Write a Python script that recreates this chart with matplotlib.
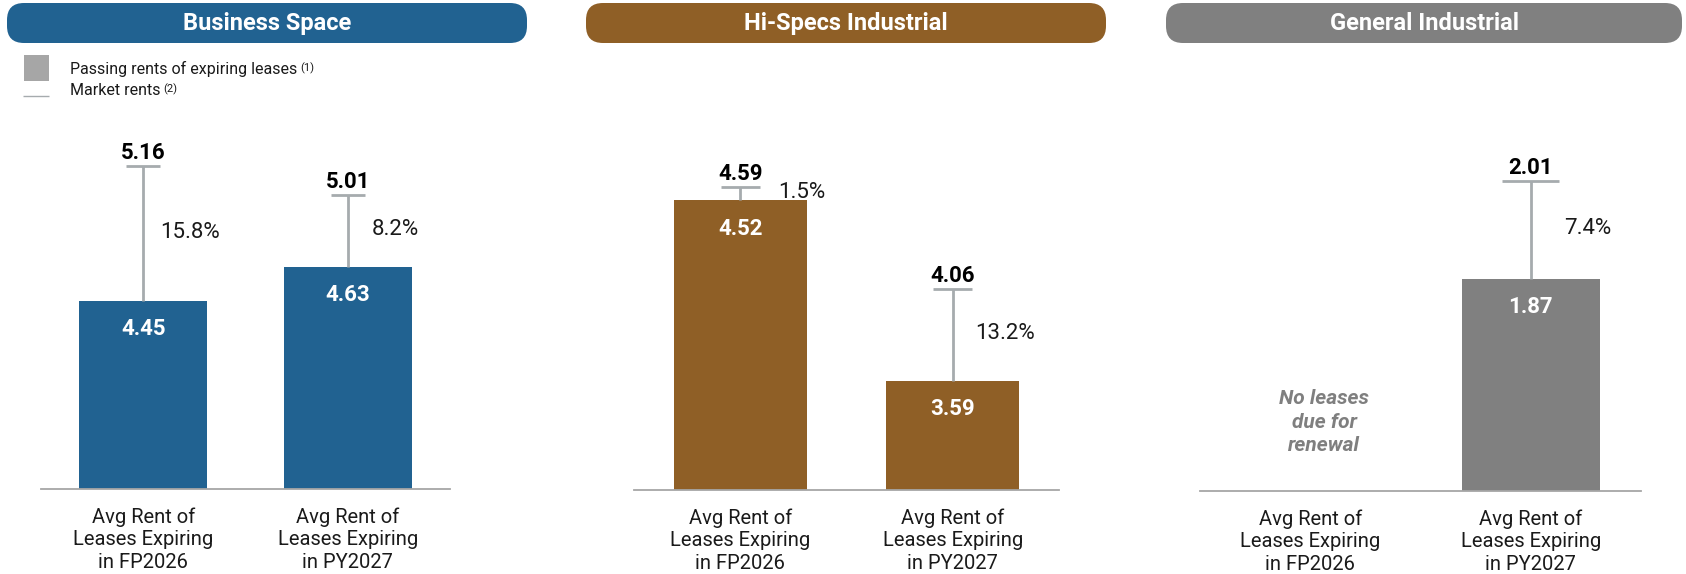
import matplotlib
matplotlib.use("Agg")
import matplotlib.pyplot as plt
from matplotlib.patches import FancyBboxPatch, Rectangle
from matplotlib.transforms import blended_transform_factory

# ---------------- data ----------------
segments = ["Business Space", "Hi-Specs Industrial", "General Industrial"]
categories = ["Avg Rent of\nLeases Expiring\nin FP2026",
              "Avg Rent of\nLeases Expiring\nin PY2027"]
passing_business = [4.45, 4.63]
market_business = [5.16, 5.01]
gap_business = ["15.8%", "8.2%"]
passing_hispecs = [4.52, 3.59]
market_hispecs = [4.59, 4.06]
gap_hispecs = ["1.5%", "13.2%"]
passing_general = [None, 1.87]
market_general = [None, 2.01]
gap_general = [None, "7.4%"]
no_data_note = "No leases\ndue for\nrenewal"
legend_labels = ["Passing rents of expiring leases", "Market rents"]
legend_notes = ["(1)", "(2)"]

# ---------------- style / layout ----------------
plt.rcParams["font.family"] = ["Roboto", "DejaVu Sans"]
W, H = 1686, 574
DPI = 100
PX = 72.0 / DPI  # points per pixel
TOP = 110
whisker_color = "#A6ABAE"
text_color = "#1A1A1A"

layout = [
    dict(left=41, right=450, base=489, v0=3.461, s=190, color="#216291",
         header=(7, 527), cap_px=34, pct_dx=[17, 24]),
    dict(left=634, right=1059, base=490, v0=3.026, s=194, color="#8F5F26",
         header=(586, 1106), cap_px=39, pct_dx=[38, 22]),
    dict(left=1200, right=1641, base=491, v0=1.567, s=700, color="#808080",
         header=(1166, 1682), cap_px=57, pct_dx=[0, 33]),
]
series = [
    (passing_business, market_business, gap_business),
    (passing_hispecs, market_hispecs, gap_hispecs),
    (passing_general, market_general, gap_general),
]

fig = plt.figure(figsize=(W / DPI, H / DPI), dpi=DPI)

# overlay in pixel coordinates for headers and legend
hax = fig.add_axes([0, 0, 1, 1], zorder=0)
hax.set_xlim(0, W)
hax.set_ylim(H, 0)
hax.axis("off")

for name, lay in zip(segments, layout):
    x0, x1 = lay["header"]
    hax.add_patch(FancyBboxPatch((x0, 3), x1 - x0, 40,
                                 boxstyle="round,pad=0,rounding_size=17",
                                 facecolor=lay["color"], edgecolor="none"))
    hax.text((x0 + x1) / 2, 23.5, name, ha="center", va="center",
             color="white", fontsize=17, fontweight="bold")

# legend
hax.add_patch(Rectangle((24, 55), 25, 26, facecolor="#A6A6A6", edgecolor="none"))
hax.plot([23, 49], [96, 96], color=whisker_color, lw=1.0, solid_capstyle="butt")
leg_texts = []
for lbl, yb in zip(legend_labels, [74, 95]):
    leg_texts.append(hax.text(70, yb, lbl, ha="left", va="baseline",
                              fontsize=11.5, color=text_color))
renderer = fig.canvas.get_renderer()
for t, note, yb in zip(leg_texts, legend_notes, [71, 92]):
    bb = t.get_window_extent(renderer)
    hax.text(bb.x1 + 3, yb, note, ha="left", va="baseline",
             fontsize=8, color=text_color)

# panels
for lay, (passing, market, gaps) in zip(layout, series):
    left, right, base = lay["left"], lay["right"], lay["base"]
    ax = fig.add_axes([left / W, (H - base) / H, (right - left) / W, (base - TOP) / H],
                      zorder=1)
    ax.patch.set_alpha(0)
    ax.set_xlim(-0.5, 1.5)
    ax.set_ylim(lay["v0"], lay["v0"] + (base - TOP) / lay["s"])
    spacing = (right - left) / 2.0
    cap = lay["cap_px"] / spacing

    for i, (v, m, g) in enumerate(zip(passing, market, gaps)):
        if v is None:
            continue
        ax.bar(i, v, width=0.625, color=lay["color"], zorder=2)
        ax.vlines(i, v, m, color=whisker_color, lw=2.0, zorder=3)
        ax.hlines(m, i - cap / 2, i + cap / 2, color=whisker_color, lw=2.0, zorder=3)
        ax.annotate(f"{m:.2f}", (i, m), xytext=(0, 7 * PX), textcoords="offset points",
                    ha="center", va="baseline", fontsize=16, fontweight="bold",
                    color="black")
        ax.annotate(f"{v:.2f}", (i, v), xytext=(0, -34.4 * PX), textcoords="offset points",
                    ha="center", va="baseline", fontsize=16, fontweight="bold",
                    color="white", zorder=4)
        ax.annotate(g, (i, (v + m) / 2), xytext=(lay["pct_dx"][i] * PX, -4.3 * PX),
                    textcoords="offset points", ha="left", va="baseline",
                    fontsize=16, color=text_color)

    if passing[0] is None:
        tr = blended_transform_factory(ax.transData, ax.transAxes)
        ax.text(0.063, 0.181, no_data_note, transform=tr, ha="center", va="center",
                fontsize=15, fontweight="bold", fontstyle="italic",
                color="#7F7F7F", linespacing=1.32)

    for sp in ["top", "right", "left"]:
        ax.spines[sp].set_visible(False)
    ax.spines["bottom"].set_color("#A6A6A6")
    ax.spines["bottom"].set_linewidth(1.3)
    ax.set_yticks([])
    ax.set_xticks([0, 1])
    ax.set_xticklabels(categories, fontsize=14.5, color=text_color, linespacing=1.25)
    ax.tick_params(axis="x", length=0, pad=13)

fig.savefig("out.png", dpi=DPI)
